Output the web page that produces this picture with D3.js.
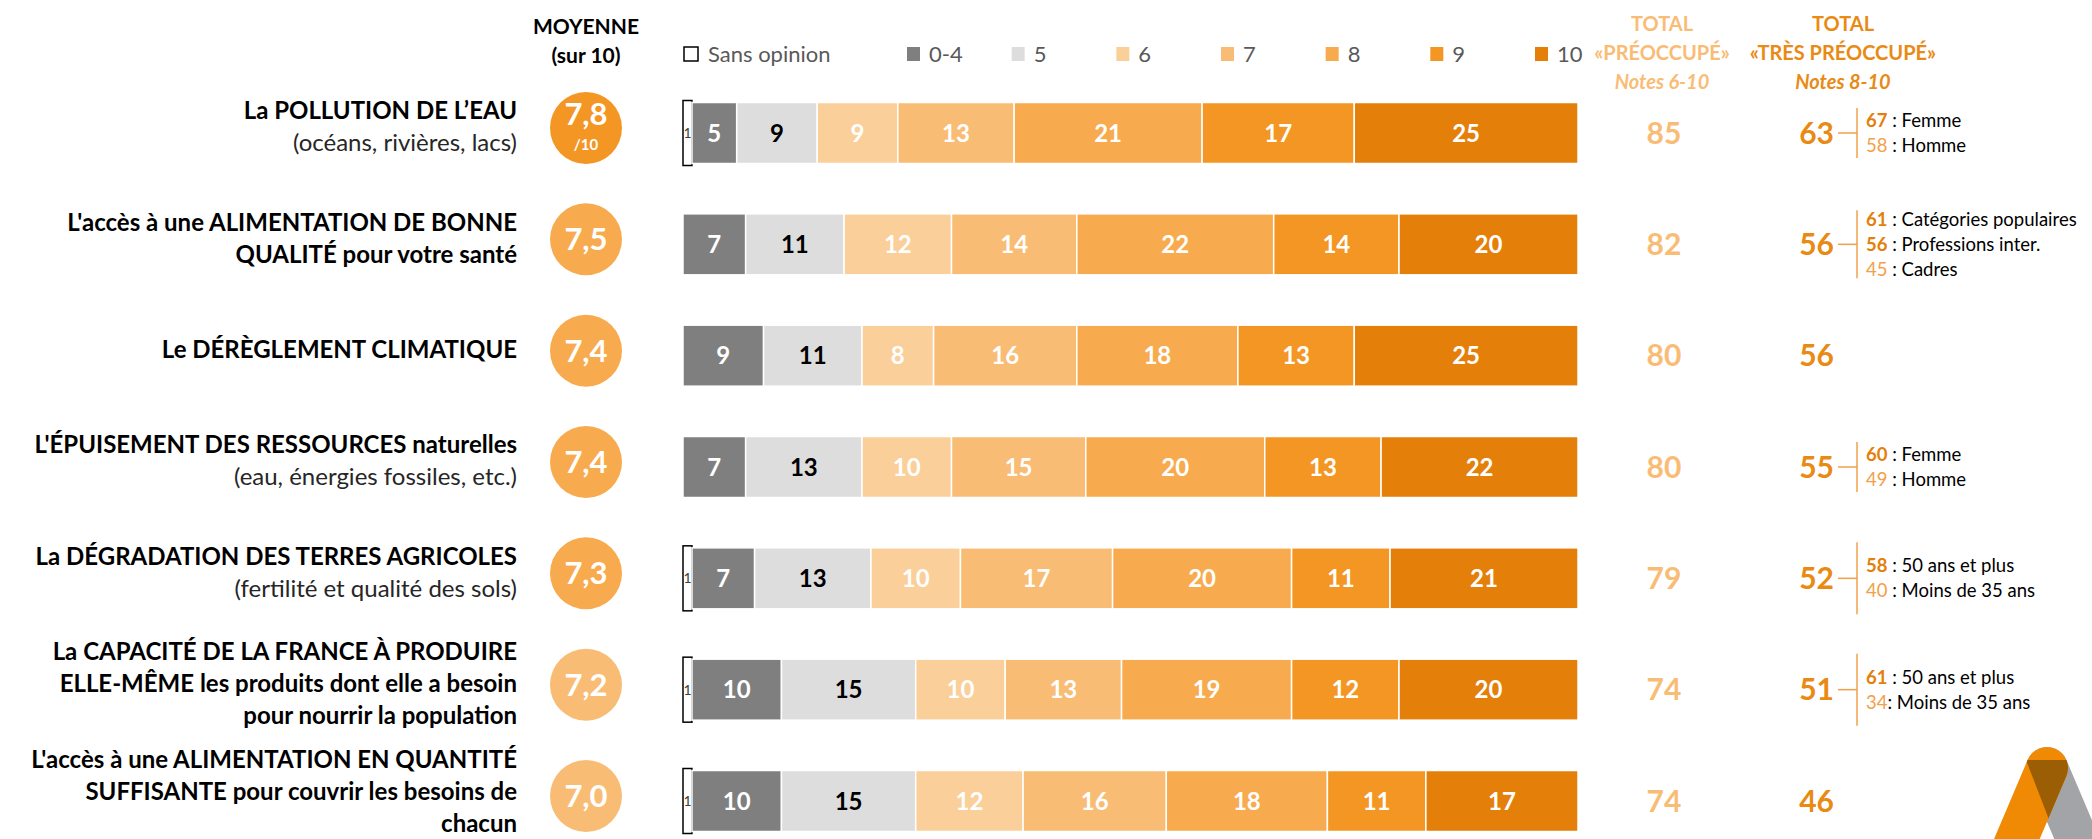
<!DOCTYPE html>
<html>
<head>
<meta charset="utf-8">
<script src="https://cdn.jsdelivr.net/npm/d3@7"></script>
<style>
  body { margin: 0; background: #fff; }
  text { font-family: Lato, "Open Sans", sans-serif; }
</style>
</head>
<body>
<div id="chart"></div>
<script>
// données
var labelsBold = [
  ["La POLLUTION DE L’EAU"],
  ["L'accès à une ALIMENTATION DE BONNE", "QUALITÉ pour votre santé"],
  ["Le DÉRÈGLEMENT CLIMATIQUE"],
  ["L'ÉPUISEMENT DES RESSOURCES naturelles"],
  ["La DÉGRADATION DES TERRES AGRICOLES"],
  ["La CAPACITÉ DE LA FRANCE À PRODUIRE", "ELLE-MÊME les produits dont elle a besoin", "pour nourrir la population"],
  ["L'accès à une ALIMENTATION EN QUANTITÉ", "SUFFISANTE pour couvrir les besoins de", "chacun"]
];
var labelsRegular = [
  ["(océans, rivières, lacs)"],
  [],
  [],
  ["(eau, énergies fossiles, etc.)"],
  ["(fertilité et qualité des sols)"],
  [],
  []
];
var categories = ["Sans opinion", "0-4", "5", "6", "7", "8", "9", "10"];
var sansOpinion = [1, 0, 0, 0, 1, 1, 1];
var note04 = [5, 7, 9, 7, 7, 10, 10];
var note5 = [9, 11, 11, 13, 13, 15, 15];
var note6 = [9, 12, 8, 10, 10, 10, 12];
var note7 = [13, 14, 16, 15, 17, 13, 16];
var note8 = [21, 22, 18, 20, 20, 19, 18];
var note9 = [17, 14, 13, 13, 11, 12, 11];
var note10 = [25, 20, 25, 22, 21, 20, 17];
var moyennes = [7.8, 7.5, 7.4, 7.4, 7.3, 7.2, 7.0];
var totalPreoccupe = [85, 82, 80, 80, 79, 74, 74];
var totalTresPreoccupe = [63, 56, 56, 55, 52, 51, 46];
var sousGroupes = [
  [[67, " : Femme"], [58, " : Homme"]],
  [[61, " : Catégories populaires"], [56, " : Professions inter."], [45, " : Cadres"]],
  [],
  [[60, " : Femme"], [49, " : Homme"]],
  [[58, " : 50 ans et plus"], [40, " : Moins de 35 ans"]],
  [[61, " : 50 ans et plus"], [34, ": Moins de 35 ans"]],
  []
];

var svgWidth = 2092;
var svgHeight = 839;

var svg = d3.select("#chart")
  .append("svg")
  .attr("width", svgWidth)
  .attr("height", svgHeight);

var series = [sansOpinion, note04, note5, note6, note7, note8, note9, note10];
var table = moyennes.map(function(m, i) {
  var row = { index: i };
  categories.forEach(function(c, k) { row[c] = series[k][i]; });
  return row;
});

var stack = d3.stack().keys(categories)(table);

var x = d3.scaleLinear().domain([0, 100]).range([683, 1578]);
var y = d3.scalePoint().domain(d3.range(table.length)).range([133, 801]);
var barH = 61;

var color = d3.scaleOrdinal()
  .domain(categories)
  .range(["#FFFFFF", "#7F7F7F", "#DDDDDD", "#FBCF9A", "#F9BC75", "#F8AB4E", "#F39623", "#E4800A"]);

var circleColor = d3.scaleThreshold()
  .domain([7.25, 7.6])
  .range(["#F9BC75", "#F8AB4E", "#F39623"]);

var fmt = function(v) { return d3.format(".1f")(v).replace(".", ","); };

// en-têtes
var head = svg.append("g");
head.append("text").attr("x", 586).attr("y", 34).attr("text-anchor", "middle")
  .attr("font-size", 21).attr("font-weight", "bold").text("MOYENNE");
head.append("text").attr("x", 586).attr("y", 63).attr("text-anchor", "middle")
  .attr("font-size", 21).attr("font-weight", "bold").text("(sur 10)");

var h1 = ["TOTAL", "«PRÉOCCUPÉ»", "Notes 6-10"];
var h2 = ["TOTAL", "«TRÈS PRÉOCCUPÉ»", "Notes 8-10"];
h1.forEach(function(t, i) {
  head.append("text").attr("x", 1662).attr("y", 31 + i * 29).attr("text-anchor", "middle")
    .attr("font-size", 20).attr("font-weight", "bold")
    .attr("font-style", i == 2 ? "italic" : "normal")
    .attr("fill", "#F9BC75").text(t);
});
h2.forEach(function(t, i) {
  head.append("text").attr("x", 1843).attr("y", 31 + i * 29).attr("text-anchor", "middle")
    .attr("font-size", 20).attr("font-weight", "bold")
    .attr("font-style", i == 2 ? "italic" : "normal")
    .attr("fill", "#E98A14").text(t);
});

// légende
var legendY = 54;
var legendX = d3.scalePoint().domain(categories.slice(1)).range([907, 1535]);
var legend = svg.append("g");
legend.append("rect").attr("x", 684).attr("y", legendY - 7).attr("width", 14).attr("height", 14)
  .attr("fill", "#fff").attr("stroke", "#000").attr("stroke-width", 1.5);
legend.append("text").attr("x", 708).attr("y", legendY + 8).attr("font-size", 22)
  .attr("fill", "#595959").text(categories[0]);
var li = legend.selectAll("g.li").data(categories.slice(1)).enter().append("g").attr("class", "li");
li.append("rect").attr("x", d => legendX(d)).attr("y", legendY - 7)
  .attr("width", 13).attr("height", 14).attr("fill", d => color(d));
li.append("text").attr("x", d => legendX(d) + 22).attr("y", legendY + 8)
  .attr("font-size", 22).attr("fill", "#595959").text(d => d);

// libellés
var lineH = 32;
var labels = svg.append("g");
table.forEach(function(d, i) {
  var lines = labelsBold[i].map(t => ({ t: t, b: true }))
    .concat(labelsRegular[i].map(t => ({ t: t, b: false })));
  var cy = y(i) - (lines.length == 3 && i == table.length - 1 ? 9 : 6);
  var top = cy - (lines.length - 1) * lineH / 2;
  lines.forEach(function(l, k) {
    labels.append("text")
      .attr("x", 517).attr("y", top + k * lineH).attr("dy", "0.35em")
      .attr("text-anchor", "end")
      .attr("font-size", 24)
      .attr("font-weight", l.b ? "bold" : "normal")
      .attr("fill", l.b ? "#000" : "#262626")
      .text(l.t);
  });
});

// moyennes
var circles = svg.append("g").selectAll("g").data(table).enter().append("g")
  .attr("transform", d => `translate(586, ${y(d.index) - 5})`);
circles.append("circle").attr("r", 36).attr("fill", d => circleColor(moyennes[d.index]));
circles.append("text")
  .attr("text-anchor", "middle")
  .attr("y", d => d.index == 0 ? -3 : 11)
  .attr("font-size", 31).attr("font-weight", "bold").attr("fill", "#fff")
  .text(d => fmt(moyennes[d.index]));
circles.filter(d => d.index == 0).append("text")
  .attr("text-anchor", "middle").attr("y", 22)
  .attr("font-size", 15).attr("font-weight", "bold").attr("fill", "#fff")
  .text("/10");

// barres
var layers = svg.append("g").selectAll("g.layer").data(stack).enter().append("g")
  .attr("class", "layer");

layers.selectAll("rect").data(d => d.filter(s => s[1] > s[0]).map(s => ({ key: d.key, s: s })))
  .enter().append("rect")
  .attr("x", d => x(d.s[0]))
  .attr("y", d => y(d.s.data.index) - barH / 2 - (d.key == "Sans opinion" ? 2 : 0))
  .attr("width", d => x(d.s[1]) - x(d.s[0]))
  .attr("height", d => barH + (d.key == "Sans opinion" ? 4 : 0))
  .attr("fill", d => color(d.key))
  .attr("stroke", d => d.key == "Sans opinion" ? "#000" : "#fff")
  .attr("stroke-width", 1.5);

layers.selectAll("text").data(d => d.filter(s => s[1] > s[0]).map(s => ({ key: d.key, s: s })))
  .enter().append("text")
  .attr("x", d => (x(d.s[0]) + x(d.s[1])) / 2)
  .attr("y", d => y(d.s.data.index))
  .attr("dy", "0.36em")
  .attr("text-anchor", "middle")
  .attr("font-size", d => d.key == "Sans opinion" ? 14 : 24)
  .attr("font-weight", d => d.key == "Sans opinion" ? "normal" : "bold")
  .attr("fill", d => d.key == "Sans opinion" ? "#404040" : (d.key == "5" ? "#000" : "#fff"))
  .text(d => d.s[1] - d.s[0]);

// totaux
var totals = svg.append("g");
totals.selectAll("text.t1").data(table).enter().append("text").attr("class", "t1")
  .attr("x", 1664).attr("y", d => y(d.index)).attr("dy", "0.36em")
  .attr("text-anchor", "middle").attr("font-size", 30).attr("font-weight", "bold")
  .attr("fill", "#F9BC75").text(d => totalPreoccupe[d.index]);
totals.selectAll("text.t2").data(table).enter().append("text").attr("class", "t2")
  .attr("x", 1834).attr("y", d => y(d.index)).attr("dy", "0.36em")
  .attr("text-anchor", "end").attr("font-size", 30).attr("font-weight", "bold")
  .attr("fill", "#E98A14").text(d => totalTresPreoccupe[d.index]);

// sous-groupes
var subLine = 25;
table.forEach(function(d, i) {
  var g = sousGroupes[i];
  if (!g.length) return;
  var cy = y(i);
  var top = cy - (g.length - 1) * subLine / 2;
  var half = g.length == 3 ? 34 : (i >= 4 ? 36 : 25);
  totals.append("line").attr("x1", 1838).attr("x2", 1857).attr("y1", cy).attr("y2", cy)
    .attr("stroke", "#F3A04A").attr("stroke-width", 1.5);
  totals.append("line").attr("x1", 1857).attr("x2", 1857).attr("y1", cy - half).attr("y2", cy + half)
    .attr("stroke", "#F3A04A").attr("stroke-width", 1.5);
  g.forEach(function(s, k) {
    var t = totals.append("text").attr("x", 1866).attr("y", top + k * subLine).attr("dy", "0.36em")
      .attr("font-size", 18.5);
    var strong = s[0] >= totalTresPreoccupe[i];
    t.append("tspan").attr("fill", strong ? "#E4800A" : "#F3A04A")
      .attr("font-weight", strong ? "bold" : "normal").text(s[0]);
    t.append("tspan").attr("fill", "#000").text(s[1]);
  });
});

// logo
var logo = svg.append("g");
var top0 = [2047, 768];
var orangeEnd = [2002, 874];
var grayEnd = [2092, 874];
var defs = svg.append("defs");
defs.append("clipPath").attr("id", "grayLeg").append("polygon")
  .attr("points", [[2026, 760], [2068, 760], [2120, 874], [2070, 874]].join(" "));
logo.append("path").attr("d", d3.line()([top0, grayEnd]))
  .attr("stroke", "#A2A4A7").attr("stroke-width", 42).attr("stroke-linecap", "round");
logo.append("path").attr("d", d3.line()([top0, orangeEnd]))
  .attr("stroke", "#F08A05").attr("stroke-width", 42).attr("stroke-linecap", "round");
logo.append("path").attr("d", d3.line()([top0, orangeEnd]))
  .attr("clip-path", "url(#grayLeg)")
  .attr("stroke", "#9B5E05").attr("stroke-width", 42).attr("stroke-linecap", "round");
</script>
</body>
</html>
